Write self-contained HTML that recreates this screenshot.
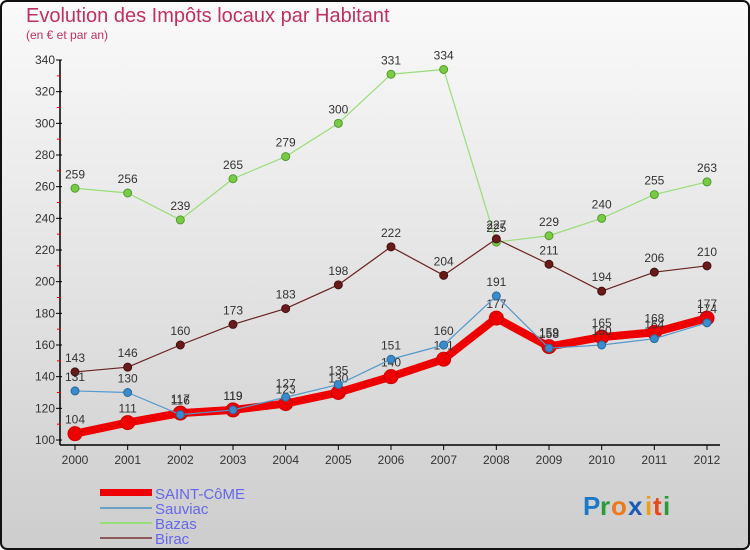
<!DOCTYPE html>
<html><head><meta charset="utf-8"><style>
body{margin:0}
#c{width:750px;height:550px;position:relative;overflow:hidden}
text{font-family:"Liberation Sans",sans-serif}
</style></head><body>
<div id="c">
<svg id="s" width="750" height="550" xmlns="http://www.w3.org/2000/svg">
<defs><linearGradient id="bg" x1="0" y1="0" x2="0" y2="1"><stop offset="0" stop-color="#fafafa"/><stop offset="1" stop-color="#cdcdcd"/></linearGradient></defs>
<rect x="1" y="1" width="748" height="548" rx="6" fill="url(#bg)" stroke="#111" stroke-width="2"/>
<text x="26" y="22" font-size="20" fill="#c0305e">Evolution des Impôts locaux par Habitant</text>
<text x="26" y="39" font-size="12" fill="#c0305e">(en € et par an)</text>
<g id="axes"></g><g id="plot"></g>
<g>
<rect x="100" y="489" width="52" height="7" fill="#e00"/>
<line x1="100" y1="508" x2="152" y2="508" stroke="#6aa0c8" stroke-width="2"/>
<line x1="100" y1="523" x2="152" y2="523" stroke="#99dd77" stroke-width="2"/>
<line x1="100" y1="538" x2="152" y2="538" stroke="#8a5a5a" stroke-width="2"/>
<text x="155" y="499" font-size="15" fill="#6666ee">SAINT-CôME</text>
<text x="155" y="514" font-size="15" fill="#6666ee">Sauviac</text>
<text x="155" y="529" font-size="15" fill="#6666ee">Bazas</text>
<text x="155" y="544" font-size="15" fill="#6666ee">Birac</text>
</g>
<g font-size="26" font-weight="bold">
<text x="583" y="515" fill="#1a7ac8">P</text><text x="600" y="515" fill="#2a9a3a">r</text><text x="611" y="515" fill="#f07818">o</text><text x="628" y="515" fill="#1a5ab8">x</text><text x="645" y="515" fill="#e8a018">i</text><text x="653" y="515" fill="#e84818">t</text><text x="663" y="515" fill="#2a9a3a">i</text>
</g>
</svg></div>
<script>
const years=[2000,2001,2002,2003,2004,2005,2006,2007,2008,2009,2010,2011,2012];
const saintCome=[104,111,117,119,123,130,140,151,177,159,165,168,177];
const sauviac=[131,130,116,119,127,135,151,160,191,158,160,164,174];
const bazas=[259,256,239,265,279,300,331,334,225,229,240,255,263];
const birac=[143,146,160,173,183,198,222,204,227,211,194,206,210];
const yTicks=[100,120,140,160,180,200,220,240,260,280,300,320,340];
const NS="http://www.w3.org/2000/svg";
const xS=i=>75+i*(707-75)/12;
const yS=v=>440-(v-100)*(380/240);
function mk(t,a,p){const e=document.createElementNS(NS,t);for(const k in a)e.setAttribute(k,a[k]);p.appendChild(e);return e;}
const ax=document.getElementById('axes'),pl=document.getElementById('plot');
let l=mk('line',{x1:60,y1:60,x2:60,y2:445,stroke:'#000','stroke-width':1.5},ax);


l=mk('line',{x1:60,y1:445,x2:720,y2:445,stroke:'#000','stroke-width':1.5},ax);


yTicks.forEach((v,i)=>{const y=yS(v);
mk('line',{x1:56,y1:y,x2:62,y2:y,stroke:'#000'},ax);
if(i<yTicks.length-1)mk('line',{x1:57,y1:yS(v+10),x2:61,y2:yS(v+10),stroke:'#e00'},ax);
const t=mk('text',{x:55,y:y+4,'font-size':12,'text-anchor':'end',fill:'#333'},ax);t.textContent=v;

});
years.forEach((yr,i)=>{const x=xS(i);mk('line',{x1:x,y1:445,x2:x,y2:450,stroke:'#000'},ax);
const t=mk('text',{x:x,y:464,'font-size':12,'text-anchor':'middle',fill:'#333'},ax);t.textContent=yr;

});
function series(name,vals,col,w,r,fill,stroke){
const g=mk('g',{},pl);


mk('polyline',{points:vals.map((v,i)=>xS(i)+','+yS(v)).join(' '),fill:'none',stroke:col,'stroke-width':w,'stroke-linejoin':'round'},g);
vals.forEach((v,i)=>{const c=mk('circle',{cx:xS(i),cy:yS(v),r:r,fill:fill,stroke:stroke,'stroke-width':1},g);


const t=mk('text',{x:xS(i),y:yS(v)-10,'font-size':12,'text-anchor':'middle',fill:'#333'},g);t.textContent=v;});}
series('bazas',bazas,'#99dd77',1.2,4,'#77cc44','#559933');
series('birac',birac,'#6a2222',1.2,4,'#6a1a1a','#441111');
series('saint-come',saintCome,'#ee0000',8,7,'#ee0000','#c00');
series('sauviac',sauviac,'#5599cc',1.2,4,'#3a8acc','#2a6a9a');
</script>
</body></html>
